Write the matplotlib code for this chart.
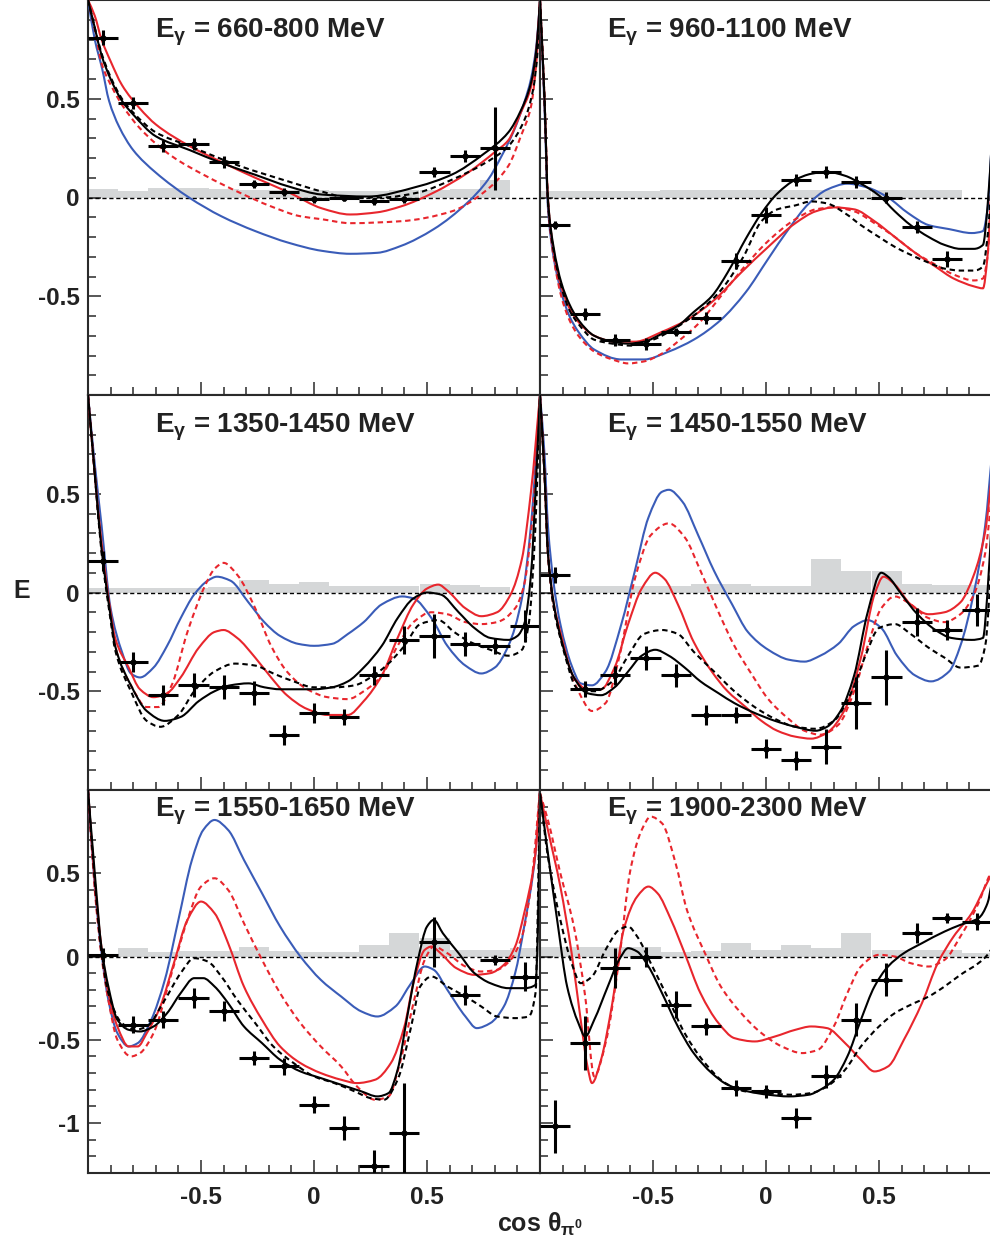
import numpy as np
import matplotlib
matplotlib.use("Agg")
import matplotlib.pyplot as plt
from matplotlib.ticker import MultipleLocator, FormatStrFormatter
from matplotlib.path import Path
from matplotlib.patches import PathPatch

plt.rcParams['font.family'] = ['Liberation Sans', 'DejaVu Sans']
plt.rcParams['font.weight'] = 'bold'
plt.rcParams['axes.unicode_minus'] = False
plt.rcParams['mathtext.fontset'] = 'custom'
plt.rcParams['mathtext.rm'] = 'Liberation Sans'
plt.rcParams['mathtext.it'] = 'Liberation Sans'
plt.rcParams['mathtext.bf'] = 'Liberation Sans:bold'

nan = np.nan

# angular bins (15 bins over cos theta)
bin_edges = [-1.0, -0.867, -0.733, -0.6, -0.467, -0.333, -0.2, -0.067,
             0.067, 0.2, 0.333, 0.467, 0.6, 0.733, 0.867]
bin_centres = [-0.933, -0.8, -0.667, -0.533, -0.4, -0.267, -0.133, 0.0,
               0.133, 0.267, 0.4, 0.533, 0.667, 0.8, 0.933]
bin_halfwidth = 0.0667

titles = ["660-800", "960-1100", "1350-1450", "1450-1550", "1550-1650", "1900-2300"]

# ---- measured E and errors ----
e_660 = [0.81, 0.48, 0.26, 0.27, 0.18, 0.07, 0.03, -0.01, -0.005, -0.02, -0.01, 0.13, 0.21, 0.25, nan]
err_660 = [0.04, 0.03, 0.03, 0.03, 0.03, 0.02, 0.02, 0.02, 0.015, 0.02, 0.02, 0.025, 0.03, 0.21, nan]
e_960 = [-0.14, -0.59, -0.72, -0.74, -0.68, -0.61, -0.32, -0.09, 0.09, 0.13, 0.08, 0.0, -0.15, -0.31, nan]
err_960 = [0.02, 0.03, 0.03, 0.03, 0.02, 0.03, 0.04, 0.04, 0.03, 0.03, 0.03, 0.03, 0.03, 0.04, nan]
e_1350 = [0.16, -0.35, -0.52, -0.47, -0.48, -0.51, -0.72, -0.61, -0.63, -0.42, -0.24, -0.22, -0.26, -0.27, -0.17]
err_1350 = [0.05, 0.05, 0.05, 0.06, 0.06, 0.06, 0.05, 0.05, 0.04, 0.05, 0.07, 0.11, 0.06, 0.04, 0.08]
e_1450 = [0.09, -0.49, -0.42, -0.33, -0.42, -0.62, -0.62, -0.79, -0.85, -0.78, -0.56, -0.43, -0.15, -0.19, -0.09]
err_1450 = [0.04, 0.04, 0.05, 0.06, 0.06, 0.05, 0.04, 0.05, 0.05, 0.09, 0.13, 0.14, 0.07, 0.05, 0.08]
e_1550 = [0.01, -0.41, -0.38, -0.25, -0.33, -0.61, -0.66, -0.89, -1.03, -1.26, -1.06, 0.09, -0.23, -0.02, -0.12]
err_1550 = [0.04, 0.05, 0.05, 0.06, 0.06, 0.04, 0.05, 0.05, 0.07, 0.1, 0.3, 0.15, 0.06, 0.03, 0.09]
e_1900 = [-1.02, -0.52, -0.07, 0.0, -0.29, -0.42, -0.79, -0.81, -0.97, -0.72, -0.38, -0.14, 0.14, 0.23, 0.21]
err_1900 = [0.16, 0.16, 0.12, 0.06, 0.08, 0.05, 0.05, 0.04, 0.06, 0.07, 0.1, 0.1, 0.06, 0.03, 0.05]

# ---- systematic error band heights per bin ----
sys_660 = [0.045, 0.035, 0.05, 0.05, 0.045, 0.04, 0.04, 0.04, 0.035, 0.035, 0.04, 0.04, 0.045, 0.09, 0.0]
sys_960 = [0.035, 0.035, 0.035, 0.035, 0.04, 0.04, 0.04, 0.04, 0.04, 0.04, 0.04, 0.04, 0.04, 0.04, 0.0]
sys_1350 = [0.025, 0.025, 0.025, 0.025, 0.03, 0.065, 0.045, 0.055, 0.035, 0.035, 0.035, 0.045, 0.04, 0.03, 0.0]
sys_1450 = [0.0, 0.035, 0.035, 0.035, 0.035, 0.045, 0.045, 0.035, 0.035, 0.17, 0.11, 0.11, 0.045, 0.04, 0.04]
sys_1550 = [0.01, 0.05, 0.03, 0.035, 0.035, 0.06, 0.035, 0.025, 0.025, 0.07, 0.14, 0.11, 0.04, 0.04, 0.05]
sys_1900 = [0.06, 0.06, 0.06, 0.06, 0.03, 0.035, 0.08, 0.04, 0.07, 0.05, 0.14, 0.04, 0.04, 0.04, 0.02]

# ---- model curves, (cos theta, E) pairs ----
blue_660 = [(-1, 1.0), (-0.97, 0.8), (-0.937, 0.65), (-0.907, 0.49), (-0.863, 0.36), (-0.8, 0.24),
            (-0.7, 0.126), (-0.553, 0.0), (-0.41, -0.095), (-0.26, -0.17), (-0.11, -0.23), (0.035, -0.27),
            (0.16, -0.285), (0.28, -0.28), (0.385, -0.245), (0.53, -0.16), (0.68, -0.025), (0.77, 0.09),
            (0.83, 0.21), (0.885, 0.34), (0.93, 0.48), (0.96, 0.6), (0.985, 0.78), (1, 1.0)]
red_660 = [(-1, 1.0), (-0.97, 0.92), (-0.94, 0.8), (-0.9, 0.69), (-0.85, 0.57), (-0.77, 0.45),
           (-0.7, 0.37), (-0.55, 0.26), (-0.41, 0.18), (-0.26, 0.10), (-0.11, 0.025), (0.035, -0.055),
           (0.16, -0.086), (0.28, -0.075), (0.385, -0.045), (0.53, 0.025), (0.68, 0.125), (0.8, 0.23),
           (0.86, 0.29), (0.915, 0.43), (0.96, 0.56), (0.985, 0.76), (1, 1.0)]
reddash_660 = [(-1, 1.0), (-0.97, 0.85), (-0.94, 0.68), (-0.89, 0.55), (-0.85, 0.47), (-0.77, 0.35),
               (-0.63, 0.21), (-0.48, 0.11), (-0.33, 0.025), (-0.19, -0.045), (-0.06, -0.095),
               (0.035, -0.11), (0.16, -0.13), (0.385, -0.12), (0.61, -0.07), (0.75, 0.025), (0.86, 0.16),
               (0.915, 0.31), (0.96, 0.46), (0.985, 0.7), (1, 1.0)]
black_660 = [(-1, 1.0), (-0.97, 0.86), (-0.94, 0.72), (-0.9, 0.6), (-0.85, 0.49), (-0.8, 0.42),
             (-0.7, 0.31), (-0.55, 0.24), (-0.41, 0.175), (-0.26, 0.115), (-0.11, 0.055), (0.035, 0.015),
             (0.24, 0.005), (0.46, 0.056), (0.61, 0.116), (0.75, 0.22), (0.86, 0.33), (0.915, 0.44),
             (0.96, 0.58), (0.985, 0.76), (1, 1.0)]
blackdash_660 = [(-1, 1.0), (-0.97, 0.86), (-0.94, 0.73), (-0.9, 0.61), (-0.85, 0.5), (-0.8, 0.43),
                 (-0.7, 0.33), (-0.55, 0.26), (-0.33, 0.16), (-0.11, 0.08), (0.035, 0.03), (0.15, 0.0),
                 (0.3, 0.0), (0.46, 0.025), (0.61, 0.09), (0.75, 0.17), (0.86, 0.26), (0.93, 0.39),
                 (0.97, 0.55), (0.99, 0.75), (1, 1.0)]

blue_960 = [(-1, 1.0), (-0.98, 0.45), (-0.965, -0.05), (-0.94, -0.3), (-0.906, -0.48), (-0.87, -0.6),
            (-0.83, -0.68), (-0.76, -0.77), (-0.64, -0.82), (-0.54, -0.82), (-0.43, -0.78), (-0.32, -0.72),
            (-0.2, -0.62), (-0.09, -0.48), (0.01, -0.31), (0.1, -0.16), (0.19, -0.03), (0.27, 0.04),
            (0.36, 0.07), (0.45, 0.05), (0.54, 0.0), (0.63, -0.08), (0.72, -0.14), (0.81, -0.16),
            (0.91, -0.18), (0.96, -0.17), (0.98, -0.06), (1, 0.3)]
red_960 = [(-1, 1.0), (-0.98, 0.5), (-0.965, 0.0), (-0.94, -0.27), (-0.906, -0.45), (-0.87, -0.56),
           (-0.83, -0.63), (-0.76, -0.70), (-0.67, -0.73), (-0.58, -0.73), (-0.46, -0.68), (-0.35, -0.62),
           (-0.23, -0.52), (-0.11, -0.38), (0.01, -0.25), (0.13, -0.13), (0.22, -0.07), (0.3, -0.05),
           (0.39, -0.06), (0.48, -0.12), (0.57, -0.2), (0.66, -0.28), (0.75, -0.35), (0.83, -0.41),
           (0.92, -0.45), (0.96, -0.46), (0.98, -0.3), (1, 0.1)]
reddash_960 = [(-1, 1.0), (-0.98, 0.5), (-0.965, -0.02), (-0.94, -0.3), (-0.906, -0.5), (-0.87, -0.62),
               (-0.83, -0.7), (-0.76, -0.78), (-0.68, -0.82), (-0.61, -0.84), (-0.54, -0.83), (-0.46, -0.79),
               (-0.38, -0.72), (-0.3, -0.64), (-0.2, -0.5), (-0.11, -0.37), (0.01, -0.22), (0.13, -0.11),
               (0.22, -0.06), (0.3, -0.05), (0.39, -0.07), (0.48, -0.13), (0.57, -0.2), (0.66, -0.28),
               (0.75, -0.34), (0.83, -0.39), (0.92, -0.42), (0.96, -0.41), (0.98, -0.3), (1, 0.1)]
black_960 = [(-1, 1.0), (-0.98, 0.5), (-0.965, -0.01), (-0.94, -0.25), (-0.906, -0.43), (-0.87, -0.54),
             (-0.83, -0.62), (-0.76, -0.70), (-0.68, -0.73), (-0.61, -0.74), (-0.54, -0.73), (-0.46, -0.69),
             (-0.39, -0.65), (-0.32, -0.58), (-0.24, -0.5), (-0.17, -0.38), (-0.09, -0.21), (-0.02, -0.08),
             (0.05, 0.02), (0.13, 0.09), (0.2, 0.12), (0.27, 0.13), (0.35, 0.11), (0.42, 0.07), (0.5, 0.01),
             (0.57, -0.07), (0.64, -0.14), (0.72, -0.2), (0.79, -0.24), (0.86, -0.26), (0.92, -0.26),
             (0.96, -0.24), (0.98, -0.05), (1, 0.3)]
blackdash_960 = [(-1, 1.0), (-0.98, 0.5), (-0.965, -0.02), (-0.94, -0.27), (-0.906, -0.45), (-0.87, -0.57),
                 (-0.83, -0.64), (-0.76, -0.72), (-0.68, -0.74), (-0.6, -0.75), (-0.5, -0.72), (-0.4, -0.66),
                 (-0.3, -0.58), (-0.2, -0.47), (-0.1, -0.3), (-0.02, -0.12), (0.05, -0.06), (0.13, -0.04),
                 (0.2, -0.02), (0.27, -0.03), (0.35, -0.08), (0.42, -0.14), (0.5, -0.2), (0.57, -0.25),
                 (0.64, -0.29), (0.72, -0.33), (0.79, -0.36), (0.86, -0.37), (0.92, -0.37), (0.96, -0.35),
                 (0.98, -0.2), (1, 0.1)]

blue_1350 = [(-1, 1.0), (-0.97, 0.65), (-0.94, 0.34), (-0.9, -0.08), (-0.85, -0.3), (-0.81, -0.41),
             (-0.77, -0.43), (-0.71, -0.38), (-0.65, -0.27), (-0.59, -0.13), (-0.53, -0.01), (-0.47, 0.06),
             (-0.43, 0.08), (-0.37, 0.06), (-0.29, -0.05), (-0.22, -0.15), (-0.15, -0.22), (-0.07, -0.26),
             (0, -0.27), (0.08, -0.26), (0.15, -0.21), (0.22, -0.15), (0.3, -0.06), (0.39, -0.02),
             (0.44, -0.03), (0.52, -0.13), (0.59, -0.27), (0.67, -0.37), (0.74, -0.41), (0.8, -0.38),
             (0.86, -0.27), (0.92, -0.03), (0.96, 0.34), (1, 1.0)]
red_1350 = [(-1, 1.0), (-0.97, 0.6), (-0.94, 0.25), (-0.9, -0.1), (-0.88, -0.23), (-0.82, -0.38),
            (-0.77, -0.49), (-0.71, -0.53), (-0.65, -0.51), (-0.59, -0.43), (-0.51, -0.28), (-0.44, -0.2),
            (-0.4, -0.19), (-0.34, -0.23), (-0.26, -0.33), (-0.19, -0.43), (-0.12, -0.52), (-0.03, -0.59),
            (0.06, -0.62), (0.15, -0.62), (0.22, -0.55), (0.3, -0.42), (0.37, -0.23), (0.44, -0.06),
            (0.5, 0.02), (0.55, 0.04), (0.59, 0.01), (0.67, -0.08), (0.74, -0.12), (0.81, -0.1),
            (0.87, -0.01), (0.92, 0.17), (0.96, 0.51), (1, 1.0)]
reddash_1350 = [(-1, 1.0), (-0.97, 0.6), (-0.94, 0.22), (-0.9, -0.12), (-0.88, -0.27), (-0.81, -0.47),
                (-0.74, -0.58), (-0.69, -0.58), (-0.63, -0.47), (-0.56, -0.2), (-0.48, 0.04), (-0.44, 0.12),
                (-0.4, 0.15), (-0.34, 0.09), (-0.26, -0.08), (-0.19, -0.27), (-0.12, -0.4), (-0.03, -0.49),
                (0.06, -0.53), (0.15, -0.54), (0.22, -0.5), (0.3, -0.42), (0.37, -0.27), (0.44, -0.15),
                (0.52, -0.1), (0.59, -0.11), (0.67, -0.15), (0.74, -0.16), (0.81, -0.15), (0.89, -0.08),
                (0.93, 0.04), (0.97, 0.43), (1, 1.0)]
black_1350 = [(-1, 1.0), (-0.97, 0.6), (-0.94, 0.22), (-0.9, -0.12), (-0.88, -0.27), (-0.81, -0.47),
              (-0.74, -0.6), (-0.66, -0.65), (-0.59, -0.63), (-0.51, -0.55), (-0.44, -0.5), (-0.37, -0.47),
              (-0.29, -0.46), (-0.22, -0.48), (-0.15, -0.49), (-0.07, -0.49), (0, -0.49), (0.08, -0.48),
              (0.15, -0.45), (0.22, -0.38), (0.3, -0.27), (0.37, -0.13), (0.44, -0.03), (0.5, 0.0),
              (0.56, -0.01), (0.64, -0.1), (0.71, -0.18), (0.78, -0.23), (0.86, -0.24), (0.9, -0.22),
              (0.93, -0.16), (0.96, 0.09), (0.98, 0.51), (1, 1.0)]
blackdash_1350 = [(-1, 1.0), (-0.97, 0.6), (-0.94, 0.2), (-0.9, -0.14), (-0.88, -0.29), (-0.81, -0.5),
                  (-0.74, -0.65), (-0.68, -0.68), (-0.6, -0.62), (-0.53, -0.5), (-0.44, -0.4), (-0.35, -0.36),
                  (-0.26, -0.37), (-0.18, -0.41), (-0.09, -0.45), (0, -0.48), (0.09, -0.48), (0.18, -0.47),
                  (0.25, -0.43), (0.32, -0.37), (0.4, -0.27), (0.47, -0.16), (0.55, -0.14), (0.62, -0.2),
                  (0.69, -0.25), (0.78, -0.29), (0.86, -0.32), (0.92, -0.29), (0.95, -0.16), (0.98, 0.34),
                  (1, 1.0)]

blue_1450 = [(-1, 1.0), (-0.98, 0.7), (-0.965, 0.34), (-0.94, 0.05), (-0.91, -0.16), (-0.86, -0.37),
             (-0.82, -0.46), (-0.77, -0.47), (-0.71, -0.4), (-0.64, -0.16), (-0.58, 0.11), (-0.52, 0.38),
             (-0.46, 0.51), (-0.43, 0.52), (-0.37, 0.46), (-0.3, 0.29), (-0.23, 0.11), (-0.15, -0.06),
             (-0.08, -0.2), (0.01, -0.29), (0.1, -0.34), (0.17, -0.35), (0.24, -0.32), (0.32, -0.26),
             (0.39, -0.17), (0.45, -0.14), (0.51, -0.18), (0.58, -0.32), (0.66, -0.42), (0.73, -0.45),
             (0.81, -0.4), (0.86, -0.27), (0.92, 0.0), (0.97, 0.34), (1, 0.7)]
red_1450 = [(-1, 1.0), (-0.98, 0.6), (-0.965, 0.2), (-0.94, -0.05), (-0.91, -0.2), (-0.85, -0.43),
            (-0.79, -0.49), (-0.73, -0.49), (-0.67, -0.38), (-0.61, -0.16), (-0.55, 0.02), (-0.49, 0.1),
            (-0.45, 0.07), (-0.39, -0.06), (-0.32, -0.25), (-0.24, -0.4), (-0.17, -0.5), (-0.09, -0.58),
            (-0.02, -0.65), (0.05, -0.7), (0.13, -0.73), (0.2, -0.74), (0.27, -0.71), (0.35, -0.59),
            (0.42, -0.33), (0.48, -0.01), (0.52, 0.08), (0.57, 0.04), (0.64, -0.06), (0.72, -0.11),
            (0.79, -0.1), (0.86, -0.05), (0.92, 0.09), (0.97, 0.31), (1, 0.6)]
reddash_1450 = [(-1, 1.0), (-0.98, 0.6), (-0.965, 0.2), (-0.94, -0.07), (-0.91, -0.22), (-0.83, -0.5),
                (-0.77, -0.6), (-0.71, -0.56), (-0.65, -0.33), (-0.58, 0.07), (-0.51, 0.29), (-0.43, 0.35),
                (-0.36, 0.28), (-0.29, 0.11), (-0.21, -0.1), (-0.14, -0.27), (-0.06, -0.42), (0.01, -0.54),
                (0.1, -0.64), (0.17, -0.7), (0.24, -0.72), (0.32, -0.67), (0.39, -0.5), (0.45, -0.27),
                (0.51, -0.08), (0.57, -0.02), (0.64, -0.06), (0.72, -0.13), (0.79, -0.15), (0.86, -0.11),
                (0.92, -0.01), (0.97, 0.2), (1, 0.5)]
black_1450 = [(-1, 1.0), (-0.98, 0.6), (-0.965, 0.2), (-0.94, -0.05), (-0.91, -0.22), (-0.85, -0.43),
              (-0.79, -0.51), (-0.73, -0.52), (-0.67, -0.48), (-0.61, -0.4), (-0.55, -0.32), (-0.49, -0.29),
              (-0.43, -0.32), (-0.36, -0.38), (-0.29, -0.45), (-0.21, -0.51), (-0.14, -0.56), (-0.05, -0.61),
              (0.04, -0.65), (0.13, -0.68), (0.22, -0.7), (0.27, -0.68), (0.33, -0.6), (0.39, -0.42),
              (0.45, -0.1), (0.51, 0.1), (0.54, 0.08), (0.6, -0.01), (0.67, -0.11), (0.75, -0.19),
              (0.82, -0.23), (0.91, -0.24), (0.96, -0.23), (0.98, 0.0), (1, 0.4)]
blackdash_1450 = [(-1, 1.0), (-0.98, 0.6), (-0.965, 0.2), (-0.94, -0.07), (-0.91, -0.23), (-0.83, -0.49),
                  (-0.76, -0.5), (-0.68, -0.45), (-0.61, -0.32), (-0.54, -0.21), (-0.46, -0.19), (-0.39, -0.21),
                  (-0.32, -0.3), (-0.23, -0.4), (-0.14, -0.5), (-0.05, -0.58), (0.04, -0.64), (0.13, -0.68),
                  (0.22, -0.69), (0.3, -0.65), (0.38, -0.5), (0.44, -0.32), (0.5, -0.18), (0.57, -0.16),
                  (0.64, -0.21), (0.72, -0.28), (0.79, -0.33), (0.86, -0.38), (0.94, -0.37), (0.97, -0.27),
                  (1, 0.2)]

blue_1550 = [(-1, 1.0), (-0.97, 0.42), (-0.94, 0.02), (-0.91, -0.26), (-0.87, -0.46), (-0.82, -0.54),
             (-0.78, -0.52), (-0.72, -0.38), (-0.66, -0.14), (-0.6, 0.22), (-0.54, 0.58), (-0.49, 0.76),
             (-0.44, 0.82), (-0.38, 0.76), (-0.31, 0.58), (-0.23, 0.38), (-0.15, 0.18), (-0.06, 0.0),
             (0.03, -0.14), (0.12, -0.24), (0.21, -0.33), (0.28, -0.36), (0.36, -0.3), (0.43, -0.16),
             (0.49, -0.06), (0.53, -0.08), (0.59, -0.2), (0.67, -0.36), (0.72, -0.43), (0.78, -0.4),
             (0.84, -0.3), (0.89, -0.1), (0.93, 0.18), (0.98, 0.62), (1, 1.0)]
red_1550 = [(-1, 1.0), (-0.97, 0.45), (-0.94, 0.05), (-0.91, -0.22), (-0.87, -0.42), (-0.82, -0.54),
            (-0.78, -0.54), (-0.74, -0.46), (-0.68, -0.3), (-0.62, -0.04), (-0.56, 0.22), (-0.5, 0.33),
            (-0.44, 0.26), (-0.38, 0.08), (-0.31, -0.18), (-0.23, -0.38), (-0.15, -0.54), (-0.06, -0.64),
            (0.03, -0.7), (0.12, -0.74), (0.19, -0.76), (0.27, -0.74), (0.34, -0.64), (0.4, -0.42),
            (0.44, -0.16), (0.49, 0.04), (0.52, 0.06), (0.56, 0.02), (0.63, -0.07), (0.71, -0.11),
            (0.78, -0.1), (0.84, -0.05), (0.89, 0.06), (0.93, 0.26), (0.98, 0.62), (1, 1.0)]
reddash_1550 = [(-1, 1.0), (-0.97, 0.4), (-0.94, 0.0), (-0.91, -0.26), (-0.87, -0.5), (-0.81, -0.6),
                (-0.77, -0.58), (-0.71, -0.46), (-0.63, -0.1), (-0.56, 0.22), (-0.5, 0.42), (-0.44, 0.47),
                (-0.38, 0.4), (-0.31, 0.2), (-0.23, -0.02), (-0.15, -0.22), (-0.06, -0.4), (0.03, -0.54),
                (0.12, -0.66), (0.19, -0.78), (0.27, -0.86), (0.33, -0.84), (0.38, -0.64), (0.44, -0.28),
                (0.49, -0.02), (0.53, 0.06), (0.59, 0.02), (0.67, -0.06), (0.74, -0.09), (0.81, -0.08),
                (0.87, -0.02), (0.92, 0.12), (0.96, 0.42), (1, 1.0)]
black_1550 = [(-1, 1.0), (-0.97, 0.5), (-0.94, 0.05), (-0.91, -0.18), (-0.87, -0.38), (-0.82, -0.44),
              (-0.77, -0.45), (-0.71, -0.42), (-0.65, -0.34), (-0.59, -0.22), (-0.53, -0.13), (-0.49, -0.13),
              (-0.44, -0.18), (-0.38, -0.28), (-0.31, -0.42), (-0.23, -0.52), (-0.15, -0.62), (-0.06, -0.69),
              (0.03, -0.73), (0.12, -0.77), (0.21, -0.81), (0.28, -0.84), (0.33, -0.82), (0.37, -0.68),
              (0.41, -0.38), (0.46, -0.02), (0.5, 0.18), (0.53, 0.22), (0.57, 0.14), (0.64, 0.02),
              (0.71, -0.1), (0.78, -0.16), (0.86, -0.19), (0.93, -0.19), (0.98, -0.17), (0.99, 0.12), (1, 1.0)]
blackdash_1550 = [(-1, 1.0), (-0.97, 0.45), (-0.94, 0.02), (-0.91, -0.22), (-0.85, -0.4), (-0.79, -0.44),
                  (-0.74, -0.42), (-0.66, -0.26), (-0.59, -0.1), (-0.53, -0.01), (-0.47, -0.03), (-0.41, -0.12),
                  (-0.34, -0.26), (-0.26, -0.4), (-0.18, -0.54), (-0.09, -0.64), (0, -0.72), (0.09, -0.76),
                  (0.18, -0.81), (0.25, -0.85), (0.31, -0.86), (0.37, -0.74), (0.43, -0.42), (0.47, -0.18),
                  (0.52, -0.12), (0.59, -0.18), (0.67, -0.24), (0.74, -0.3), (0.81, -0.36), (0.89, -0.37),
                  (0.95, -0.36), (0.98, -0.22), (1, 1.0)]

red_1900 = [(-1, 0.98), (-0.965, 0.76), (-0.91, 0.42), (-0.86, 0.02), (-0.82, -0.38), (-0.79, -0.66),
            (-0.77, -0.76), (-0.73, -0.62), (-0.68, -0.28), (-0.63, 0.16), (-0.57, 0.36), (-0.52, 0.42),
            (-0.48, 0.38), (-0.42, 0.22), (-0.36, 0.02), (-0.29, -0.22), (-0.21, -0.4), (-0.14, -0.49),
            (-0.05, -0.51), (0.04, -0.48), (0.13, -0.44), (0.2, -0.42), (0.27, -0.43), (0.35, -0.52),
            (0.42, -0.62), (0.48, -0.69), (0.54, -0.66), (0.61, -0.5), (0.69, -0.28), (0.76, -0.04),
            (0.83, 0.12), (0.91, 0.26), (0.97, 0.42), (1, 0.5)]
reddash_1900 = [(-1, 0.98), (-0.965, 0.82), (-0.91, 0.5), (-0.85, 0.18), (-0.8, -0.24), (-0.76, -0.72),
                (-0.71, -0.52), (-0.65, -0.02), (-0.6, 0.52), (-0.55, 0.76), (-0.51, 0.84), (-0.46, 0.8),
                (-0.4, 0.56), (-0.35, 0.28), (-0.27, 0.02), (-0.2, -0.18), (-0.11, -0.34), (-0.02, -0.46),
                (0.07, -0.54), (0.16, -0.58), (0.23, -0.56), (0.3, -0.42), (0.36, -0.22), (0.42, -0.06),
                (0.5, 0.01), (0.57, 0.0), (0.64, -0.04), (0.72, -0.06), (0.79, -0.02), (0.86, 0.12),
                (0.94, 0.32), (0.98, 0.46), (1, 0.52)]
black_1900 = [(-1, 0.98), (-0.965, 0.62), (-0.92, 0.18), (-0.88, -0.18), (-0.83, -0.4), (-0.8, -0.48),
              (-0.76, -0.38), (-0.7, -0.18), (-0.65, -0.02), (-0.61, 0.05), (-0.57, 0.03), (-0.52, -0.06),
              (-0.46, -0.22), (-0.39, -0.42), (-0.32, -0.58), (-0.24, -0.7), (-0.17, -0.77), (-0.08, -0.81),
              (0.01, -0.83), (0.1, -0.84), (0.19, -0.83), (0.24, -0.8), (0.3, -0.74), (0.36, -0.6),
              (0.42, -0.38), (0.48, -0.18), (0.54, -0.06), (0.61, 0.02), (0.69, 0.08), (0.79, 0.15),
              (0.86, 0.19), (0.94, 0.23), (0.98, 0.32), (1, 0.45)]
blackdash_1900 = [(-1, 0.98), (-0.965, 0.6), (-0.91, 0.22), (-0.86, -0.04), (-0.82, -0.16), (-0.77, -0.12),
                  (-0.71, 0.04), (-0.65, 0.16), (-0.61, 0.18), (-0.57, 0.12), (-0.51, -0.04), (-0.43, -0.26),
                  (-0.36, -0.46), (-0.27, -0.64), (-0.18, -0.76), (-0.09, -0.81), (0.01, -0.82), (0.11, -0.83),
                  (0.2, -0.82), (0.27, -0.78), (0.35, -0.68), (0.42, -0.54), (0.5, -0.42), (0.57, -0.34),
                  (0.64, -0.29), (0.72, -0.24), (0.79, -0.18), (0.86, -0.11), (0.94, -0.04), (0.98, 0.01),
                  (1, 0.05)]

RED = '#e8262d'
BLUE = '#3a5cb8'
BAND = '#d5d7d8'
SPINE = '#2a2a2a'
TXT = '#222222'

W, H = 990, 1249
fig = plt.figure(figsize=(W / 100, H / 100), dpi=100)

col_x = [88, 540]
col_w = 452
rows = [(0, 395), (395, 790), (790, 1173)]


def make_ax(r, c):
    top, bot = rows[r]
    return fig.add_axes([col_x[c] / W, 1 - bot / H, col_w / W, (bot - top) / H])


def smooth_path(pts):
    # monotone cubic (pchip-style) bezier through the read points
    x = np.array([p[0] for p in pts], float)
    y = np.array([p[1] for p in pts], float)
    h = np.diff(x)
    d = np.diff(y) / h
    m = np.zeros_like(y)
    m[0], m[-1] = d[0], d[-1]
    for k in range(1, len(x) - 1):
        if d[k - 1] * d[k] <= 0:
            m[k] = 0.0
        else:
            w1 = 2 * h[k] + h[k - 1]
            w2 = h[k] + 2 * h[k - 1]
            m[k] = (w1 + w2) / (w1 / d[k - 1] + w2 / d[k])
    verts = [(x[0], y[0])]
    codes = [Path.MOVETO]
    for k in range(len(x) - 1):
        verts += [(x[k] + h[k] / 3, y[k] + m[k] * h[k] / 3),
                  (x[k + 1] - h[k] / 3, y[k + 1] - m[k + 1] * h[k] / 3),
                  (x[k + 1], y[k + 1])]
        codes += [Path.CURVE4] * 3
    return Path(verts, codes)


def draw_curve(ax, pts, color, dashed=False):
    ls = (0, (2.6, 1.8)) if dashed else '-'
    patch = PathPatch(smooth_path(pts), facecolor='none', edgecolor=color, lw=1.5,
                      linestyle=ls, zorder=3, joinstyle='round')
    ax.add_patch(patch)


panels = [
    (e_660, err_660, sys_660, [blue_660, red_660, reddash_660, blackdash_660, black_660]),
    (e_960, err_960, sys_960, [blue_960, red_960, reddash_960, blackdash_960, black_960]),
    (e_1350, err_1350, sys_1350, [blue_1350, red_1350, reddash_1350, blackdash_1350, black_1350]),
    (e_1450, err_1450, sys_1450, [blue_1450, red_1450, reddash_1450, blackdash_1450, black_1450]),
    (e_1550, err_1550, sys_1550, [blue_1550, red_1550, reddash_1550, blackdash_1550, black_1550]),
    (e_1900, err_1900, sys_1900, [None, red_1900, reddash_1900, blackdash_1900, black_1900]),
]

for i, (evals, errs, sysh, curves) in enumerate(panels):
    r, c = divmod(i, 2)
    ax = make_ax(r, c)

    ax.bar(bin_edges, sysh, width=2 * bin_halfwidth, align='edge', color=BAND, lw=0, zorder=1)
    ax.axhline(0, color='black', lw=1.0, dashes=(3, 2), zorder=2)

    blue, red, reddash, blackdash, black = curves
    if blue is not None:
        draw_curve(ax, blue, BLUE)
    draw_curve(ax, red, RED)
    draw_curve(ax, reddash, RED, dashed=True)
    draw_curve(ax, blackdash, 'black', dashed=True)
    draw_curve(ax, black, 'black')

    ax.errorbar(bin_centres, evals, xerr=bin_halfwidth, yerr=errs, fmt='o', ms=3.5,
                color='black', ecolor='black', elinewidth=2.2, capsize=0, zorder=5)

    ax.set_xlim(-1, 1)
    ax.set_ylim(-1.3 if r == 2 else -1.0, 1.0)

    ax.text(0.148, 0.904 if r < 2 else 0.93, r'E$_{\gamma}$ = %s MeV' % titles[i],
            transform=ax.transAxes, fontsize=20, fontweight='bold', ha='left', va='baseline',
            color=TXT, zorder=6)

    # axes styling
    for sp in ax.spines.values():
        sp.set_color(SPINE)
        sp.set_linewidth(1.5)
    ax.set_xticks([-0.5, 0, 0.5])
    ax.set_yticks([-1, -0.5, 0, 0.5] if r == 2 else [-0.5, 0, 0.5])
    ax.xaxis.set_major_formatter(FormatStrFormatter('%g'))
    ax.yaxis.set_major_formatter(FormatStrFormatter('%g'))
    ax.xaxis.set_minor_locator(MultipleLocator(0.1))
    ax.yaxis.set_minor_locator(MultipleLocator(0.1))
    ax.tick_params(which='both', direction='in', top=False, right=False, colors=SPINE, width=1.1)
    ax.tick_params(which='major', length=9.5, labelsize=17.5, pad=6)
    ax.tick_params(which='minor', length=5.5)
    ax.tick_params(axis='x', which='major', pad=9)
    if c == 1:
        ax.tick_params(labelleft=False)
    if r < 2:
        ax.tick_params(labelbottom=False)
    for lab in ax.get_xticklabels() + ax.get_yticklabels():
        lab.set_fontweight('bold')
        lab.set_color(TXT)

fig.text(22 / W, 1 - 591 / H, 'E', fontsize=18, fontweight='bold', ha='center', va='center', color=TXT)
fig.text(540 / W, 1 - 1232 / H, r'cos $\theta_{\pi^{0}}$', fontsize=18, fontweight='bold',
         ha='center', va='baseline', color=TXT)

fig.savefig('out.png', dpi=100)
